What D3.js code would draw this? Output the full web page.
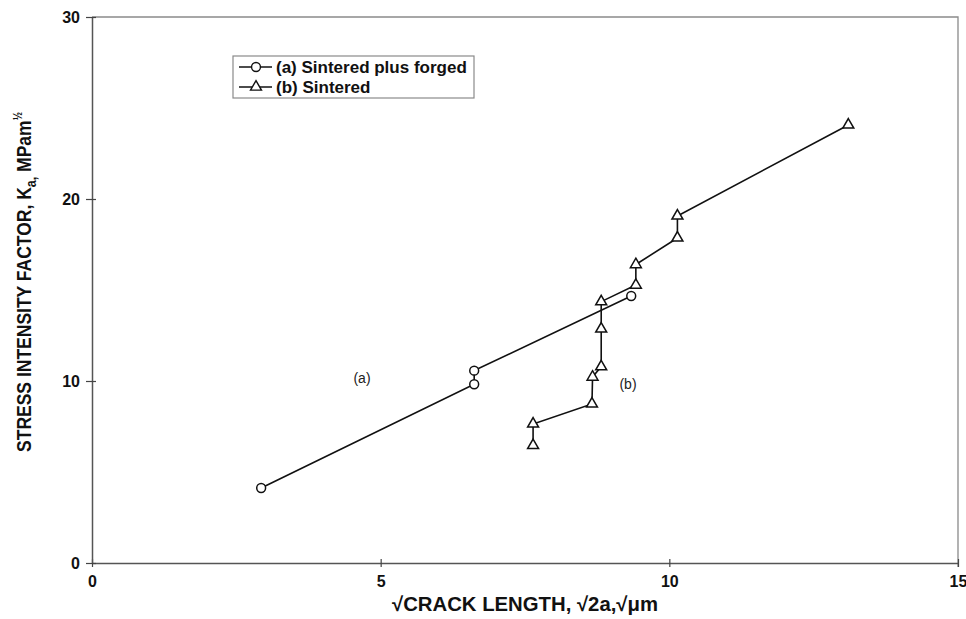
<!DOCTYPE html>
<html>
<head>
<meta charset="utf-8">
<script src="https://cdn.jsdelivr.net/npm/d3@7"></script>
<style>
  body { margin: 0; background: #fff; }
  svg { display: block; font-family: "Liberation Sans", Arial, sans-serif; }
</style>
</head>
<body>
<svg width="966" height="619"></svg>
<script>
// values
const seriesNames = ["(a) Sintered plus forged", "(b) Sintered"];
const forgedX = [2.93, 6.62, 6.62, 9.34];
const forgedY = [4.12, 9.82, 10.57, 14.67];
const sinteredX = [7.64, 7.64, 8.66, 8.67, 8.82, 8.82, 8.82, 9.42, 9.42, 10.14, 10.14, 13.1];
const sinteredY = [6.46, 7.64, 8.74, 10.22, 10.79, 12.86, 14.36, 15.27, 16.4, 17.86, 19.07, 24.07];
const xTicks = [0, 5, 10, 15];
const yTicks = [0, 10, 20, 30];

const svg = d3.select("svg");
const plotL = 92, plotR = 958, plotT = 17, plotB = 563;

const x = d3.scaleLinear().domain([0, 15]).range([plotL, plotR]);
const y = d3.scaleLinear().domain([0, 30]).range([plotB, plotT]);

// frame: top and right border, lighter grey
svg.append("path")
  .attr("d", `M${plotL},${plotT}H${plotR}V${plotB + 4}`)
  .attr("fill", "none")
  .attr("stroke", "#8a8a8a")
  .attr("stroke-width", 1.3);

// axes
const xAxis = svg.append("g")
  .attr("transform", `translate(0,${plotB})`)
  .call(d3.axisBottom(x).tickValues(xTicks).tickSize(0).tickFormat(d3.format("d")));
xAxis.select(".domain").attr("stroke", "#555").attr("stroke-width", 1.5);
xAxis.selectAll(".tick line").attr("y1", -4).attr("y2", 4).attr("stroke", "#444").attr("stroke-width", 1.2);
xAxis.selectAll(".tick text")
  .attr("y", 13).attr("dy", "0.71em")
  .attr("font-size", 16).attr("font-weight", "bold").attr("fill", "#111")
  .attr("font-family", "'Liberation Sans', Arial, sans-serif");

const yAxis = svg.append("g")
  .attr("transform", `translate(${plotL},0)`)
  .call(d3.axisLeft(y).tickValues(yTicks).tickSize(0).tickFormat(d3.format("d")));
yAxis.select(".domain").attr("stroke", "#555").attr("stroke-width", 1.5);
yAxis.selectAll(".tick line").attr("x1", -6).attr("x2", 4).attr("stroke", "#444").attr("stroke-width", 1.2);
yAxis.selectAll(".tick text")
  .attr("x", -12)
  .attr("font-size", 16).attr("font-weight", "bold").attr("fill", "#111")
  .attr("font-family", "'Liberation Sans', Arial, sans-serif");

// axis titles
svg.append("text")
  .attr("x", 525).attr("y", 611)
  .attr("text-anchor", "middle")
  .attr("font-size", 20).attr("font-weight", "bold").attr("fill", "#111")
  .attr("textLength", 266).attr("lengthAdjust", "spacingAndGlyphs")
  .text("\u221ACRACK LENGTH, \u221A2a,\u221A\u03BCm");

const yTitle = svg.append("text")
  .attr("transform", "translate(31,282) rotate(-90)")
  .attr("text-anchor", "middle")
  .attr("font-size", 21).attr("font-weight", "bold").attr("fill", "#111")
  .attr("textLength", 340).attr("lengthAdjust", "spacingAndGlyphs");
yTitle.append("tspan").text("STRESS INTENSITY FACTOR, K");
yTitle.append("tspan").attr("dy", 5).attr("font-size", 15).text("a,");
yTitle.append("tspan").attr("dy", -5).text(" MPam");
yTitle.append("tspan").attr("dy", -9).attr("font-size", 12).text("\u00BD");

// series
const forged = forgedX.map((v, i) => ({ x: v, y: forgedY[i] }));
const sintered = sinteredX.map((v, i) => ({ x: v, y: sinteredY[i] }));

const line = d3.line().x(d => x(d.x)).y(d => y(d.y));
const circle = d3.symbol().type(d3.symbolCircle).size(62);
const triangle = d3.symbol().type(d3.symbolTriangle).size(52);

[[forged, circle], [sintered, triangle]].forEach(([pts, sym]) => {
  svg.append("path")
    .attr("d", line(pts))
    .attr("fill", "none")
    .attr("stroke", "#111")
    .attr("stroke-width", 1.6);
  svg.append("g")
    .selectAll("path")
    .data(pts)
    .join("path")
    .attr("transform", d => `translate(${x(d.x)},${y(d.y)})`)
    .attr("d", sym)
    .attr("fill", "#fff")
    .attr("stroke", "#111")
    .attr("stroke-width", 1.5);
});

// in-plot labels
svg.append("text").attr("x", 362).attr("y", 383).attr("text-anchor", "middle")
  .attr("font-size", 14).attr("fill", "#222").text("(a)");
svg.append("text").attr("x", 628).attr("y", 389).attr("text-anchor", "middle")
  .attr("font-size", 14).attr("fill", "#222").text("(b)");

// legend
const legend = svg.append("g");
legend.append("rect")
  .attr("x", 233).attr("y", 56).attr("width", 241).attr("height", 42)
  .attr("fill", "#fff").attr("stroke", "#8a8a8a").attr("stroke-width", 1.2);
[circle, triangle].forEach((sym, i) => {
  const cy = 67 + i * 20;
  legend.append("line")
    .attr("x1", 239).attr("x2", 272).attr("y1", cy).attr("y2", cy)
    .attr("stroke", "#111").attr("stroke-width", 1.4);
  legend.append("path")
    .attr("transform", `translate(256,${cy})`)
    .attr("d", sym)
    .attr("fill", "#fff").attr("stroke", "#111").attr("stroke-width", 1.4);
  legend.append("text")
    .attr("x", 276).attr("y", cy + 6)
    .attr("font-size", 17).attr("font-weight", "bold").attr("fill", "#111")
    .text(seriesNames[i]);
});
</script>
</body>
</html>
